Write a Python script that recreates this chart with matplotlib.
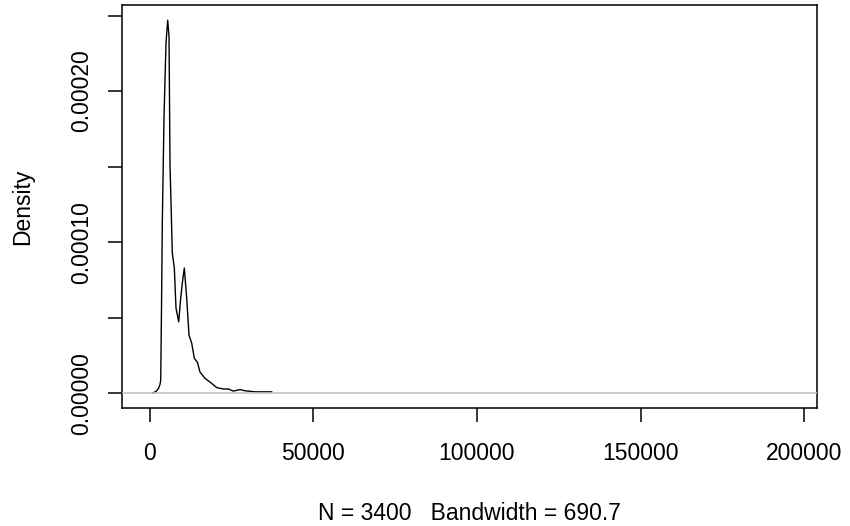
import matplotlib
matplotlib.use("Agg")
import matplotlib.pyplot as plt

# density curve (x value, density)
x_vals = [1008, 1925, 2690, 3147, 3360, 3605, 3850, 4370, 4980, 5500,
          5900, 6200, 6660, 6900, 7520, 8030, 8860, 9410, 9960, 10570, 11300,
          12010, 12830, 13630, 14540, 15370, 16890, 18420, 20470, 22480,
          24010, 25540, 27590, 29110, 32170, 37270]
density = [3e-7, 1.3e-6, 3.3e-6, 6.0e-6, 8.6e-6, 5.70e-5, 1.134e-4,
           1.830e-4, 2.321e-4, 2.469e-4, 2.361e-4, 1.512e-4, 1.134e-4,
           9.28e-5, 8.29e-5, 5.64e-5, 4.73e-5, 6.17e-5, 7.29e-5, 8.29e-5,
           6.30e-5, 3.85e-5, 3.32e-5, 2.32e-5, 2.07e-5, 1.41e-5, 9.9e-6,
           7.5e-6, 3.8e-6, 2.9e-6, 2.9e-6, 1.5e-6, 2.5e-6, 1.7e-6, 1.0e-6,
           1.0e-6]
# full range of the density grid (tails are ~0 and hidden by the zero line)
grid_range = [-514, 195930]
dens_range = [0.0, 2.469e-4]

x_ticks = [0, 50000, 100000, 150000, 200000]
y_ticks = [0.0, 0.00005, 0.0001, 0.00015, 0.0002, 0.00025]
y_labels = ["0.00000", "", "0.00010", "", "0.00020", ""]

plt.rcParams['font.family'] = ['Liberation Sans', 'DejaVu Sans']

fig = plt.figure(figsize=(8.5, 5.26), dpi=100)
ax = fig.add_axes([0.1439, 0.2238, 0.8169, 0.7662])

ax.plot(x_vals, density, color='black', lw=1.0, zorder=2)
ax.axhline(0, color='#BEBEBE', lw=1.1, zorder=3)

# R style limits: data range plus 4%
xr = grid_range[1] - grid_range[0]
ax.set_xlim(grid_range[0] - 0.04 * xr, grid_range[1] + 0.04 * xr)
yr = dens_range[1] - dens_range[0]
ax.set_ylim(dens_range[0] - 0.04 * yr, dens_range[1] + 0.04 * yr)

ax.set_xticks(x_ticks)
ax.set_xticklabels([str(v) for v in x_ticks])
ax.set_yticks(y_ticks)
ax.set_yticklabels(y_labels, rotation=90, va='center')

ax.tick_params(axis='x', direction='out', length=10, width=1.1, pad=14,
               labelsize=16.5)
ax.tick_params(axis='y', direction='out', length=10, width=1.1, pad=11,
               labelsize=16.5)
for s in ax.spines.values():
    s.set_linewidth(1.1)
    s.set_color('black')

fig.text(23 / 850, 1 - 207 / 526, 'Density', rotation=90, ha='center',
         va='center', fontsize=16.5)
fig.text(469.5 / 850, 1 - 520 / 526, 'N = 3400   Bandwidth = 690.7',
         ha='center', va='baseline', fontsize=16.5)

fig.savefig('out.png', dpi=100)
